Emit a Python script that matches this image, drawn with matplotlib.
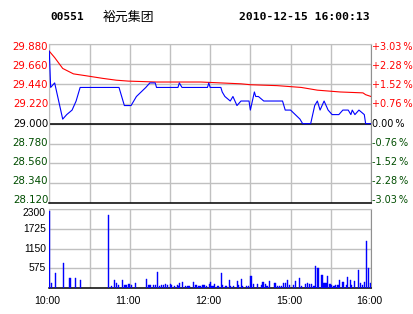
import matplotlib
matplotlib.use('Agg')
import matplotlib.pyplot as plt

# ---- data (minutes after 10:00, HK session 10:00-12:30, 14:30-16:00) ----
prev_close = 29.000
price_ticks = [28.120, 28.340, 28.560, 28.780, 29.000, 29.220, 29.440, 29.660, 29.880]
pct_labels = ['-3.03', '-2.28', '-1.52', '-0.76', '0.00', '+0.76', '+1.52', '+2.28', '+3.03']
vol_ticks = [575, 1150, 1725, 2300]
time_pos = [0, 60, 120, 180, 240]
time_labels = ['10:00', '11:00', '12:00', '15:00', '16:00']

price_min = [0, 1, 4, 10, 13, 17, 20, 23, 52, 53, 56, 61, 65, 72, 75, 79, 80, 96, 97, 99,
             118, 119, 120, 128, 129, 131, 135, 137, 140, 143, 149, 150, 153, 154, 156, 160,
             174, 176, 180, 187, 189, 195, 198, 200, 202, 205, 208, 211, 216, 219, 223, 225,
             226, 228, 231, 235, 236, 240]
price_val = [29.80, 29.40, 29.45, 29.05, 29.10, 29.15, 29.25, 29.40, 29.40, 29.35, 29.20,
             29.20, 29.30, 29.40, 29.45, 29.45, 29.40, 29.40, 29.45, 29.40,
             29.40, 29.45, 29.40, 29.40, 29.35, 29.30, 29.25, 29.30, 29.20, 29.25, 29.25,
             29.15, 29.35, 29.30, 29.30, 29.25,
             29.25, 29.15, 29.15, 29.05, 29.00, 29.00, 29.20, 29.25, 29.15, 29.25, 29.15,
             29.10, 29.10, 29.15, 29.15, 29.10,
             29.15, 29.10, 29.15, 29.10, 29.00, 29.00]

avg_min = [0, 4, 10, 18, 27, 40, 50, 59, 80, 113, 128, 143, 150, 170, 188, 200, 217, 234, 236, 240]
avg_val = [29.80, 29.73, 29.61, 29.55, 29.53, 29.50, 29.48, 29.47, 29.46, 29.46, 29.45,
           29.44, 29.43, 29.42, 29.40, 29.37, 29.35, 29.34, 29.32, 29.30]

vol_min = [0, 1, 4, 10, 15, 19, 23, 44, 46, 48,
           50, 51, 54, 56, 57, 59, 61, 64, 72, 74,
           75, 77, 79, 80, 82, 83, 85, 86, 88, 90,
           91, 93, 95, 96, 97, 99, 101, 103, 104, 107,
           109, 111, 112, 114, 115, 117, 119, 120, 121, 122,
           123, 125, 126, 128, 129, 131, 132, 134, 135, 137,
           140, 141, 143, 144, 147, 148, 150, 152, 155, 158,
           159, 161, 162, 164, 168, 170, 171, 173, 174, 176,
           177, 179, 182, 183, 186, 188, 191, 192, 194, 195,
           197, 198, 200, 203, 204, 205, 206, 207, 209, 210,
           212, 213, 215, 216, 218, 219, 221, 222, 224, 225,
           227, 230, 232, 233, 235, 236, 238, 239]
vol_val = [2260, 136, 429, 721, 292, 292, 234, 2134, 68, 224,
           146, 88, 224, 88, 88, 117, 88, 146, 263, 88,
           88, 88, 88, 468, 68, 88, 88, 117, 88, 117,
           88, 68, 88, 68, 146, 175, 68, 68, 68, 175,
           88, 68, 68, 88, 88, 68, 117, 175, 58, 58,
           117, 58, 58, 439, 88, 58, 58, 234, 58, 58,
           205, 88, 263, 58, 58, 58, 351, 117, 117, 88,
           175, 117, 58, 205, 146, 58, 58, 58, 146, 146,
           234, 88, 88, 205, 292, 58, 117, 146, 117, 117,
           58, 643, 585, 380, 146, 146, 146, 351, 117, 88,
           58, 88, 88, 234, 175, 175, 88, 322, 234, 88,
           205, 526, 146, 88, 175, 1374, 585, 146]

RED = '#ff0000'
GREEN = '#004d00'
GRID = '#c0c0c0'
FS = 7.4

fig = plt.figure(figsize=(4.14, 3.14), dpi=100)
fig.patch.set_facecolor('white')

# header
fig.text(50 / 414, 1 - 17.5 / 314, '00551', family='DejaVu Sans Mono', weight='bold',
         fontsize=8, va='center', ha='left')
fig.text(103 / 414, 1 - 17 / 314, '裕元集团', family=['Noto Sans CJK SC', 'DejaVu Sans'],
         fontsize=9.3, va='center', ha='left')
fig.text(370 / 414, 1 - 17.5 / 314, '2010-12-15 16:00:13', family='DejaVu Sans Mono',
         weight='bold', fontsize=8.2, va='center', ha='right')

# ---- price panel ----
ax = fig.add_axes([49.3 / 414, 1 - 203.3 / 314, 321.7 / 414, 159.3 / 314])
ax.set_xlim(0, 240)
ax.set_ylim(price_ticks[0], price_ticks[-1])
ax.set_xticks(range(0, 241, 30))
ax.set_yticks(price_ticks)
ax.set_xticklabels([])
ax.set_yticklabels([])
ax.tick_params(length=0)
ax.grid(True, color=GRID, lw=1.0)
ax.axhline(prev_close, color='black', lw=1.1, zorder=2)
for s in ['left', 'top']:
    ax.spines[s].set_color(GRID)
ax.spines['right'].set_color('#909090')
ax.spines['bottom'].set_color('black')
ax.spines['bottom'].set_linewidth(1.1)

ax.plot(avg_min, avg_val, color=RED, lw=0.8, zorder=3)
ax.plot(price_min, price_val, color='#0000ff', lw=0.8, zorder=4)

for i, v in enumerate(price_ticks):
    col = RED if v > prev_close else ('black' if v == prev_close else GREEN)
    yl = prev_close + (v - prev_close) * 0.962
    ax.text(-0.8, yl, '%.3f' % v, color=col, fontsize=FS, ha='right', va='center',
            family='DejaVu Sans', clip_on=False)
    ax.text(240.4, yl, pct_labels[i] + '\u2009%', color=col, fontsize=7.0, ha='left',
            va='center', family='DejaVu Sans', clip_on=False)

# ---- volume panel ----
av = fig.add_axes([49.3 / 414, 1 - 288 / 314, 321.7 / 414, 78.7 / 314])
av.set_xlim(0, 240)
av.set_ylim(0, 2300)
av.set_xticks(range(0, 241, 30))
av.set_yticks(vol_ticks)
av.set_xticklabels([])
av.set_yticklabels([])
av.tick_params(length=0)
av.grid(True, color=GRID, lw=1.0)
av.set_axisbelow(True)
for s in ['left', 'top']:
    av.spines[s].set_color(GRID)
av.spines['right'].set_color('#909090')
av.spines['bottom'].set_color('black')
av.spines['bottom'].set_linewidth(1.1)
av.bar(vol_min, vol_val, width=0.85, color='#0000ff', edgecolor='#0000ff', linewidth=0.3,
       align='edge', zorder=3)

for v in vol_ticks:
    yl = v if v < 2300 else 2190
    av.text(-2.5, yl, str(v), fontsize=FS, ha='right', va='center',
            family='Liberation Sans', clip_on=False)
for p, lab in zip(time_pos, time_labels):
    av.text(p - 1.3, -240, lab, fontsize=7.6, ha='center', va='top',
            family='Liberation Sans', clip_on=False)

fig.savefig('out.png', dpi=100, facecolor='white')
